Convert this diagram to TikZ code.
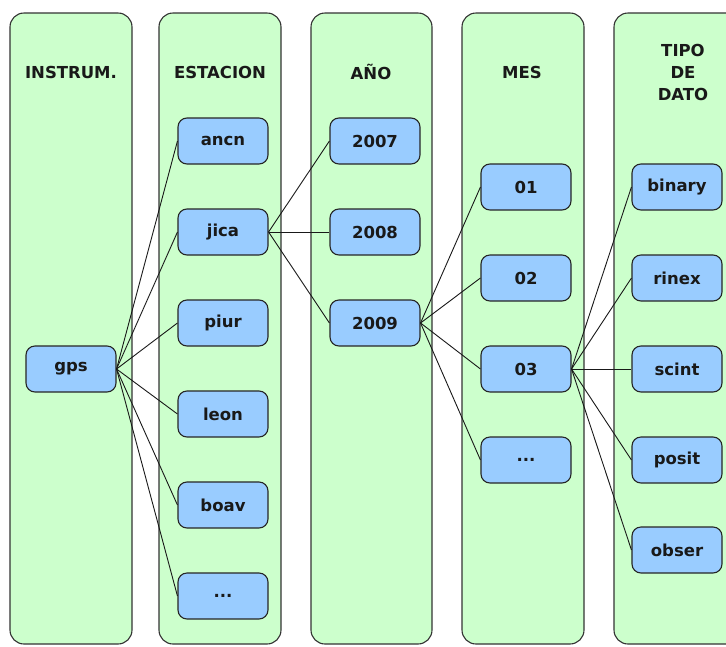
\documentclass[tikz,border=0pt]{standalone}
\usepackage{fontspec}
\setmainfont{DejaVu Sans}
\begin{document}
\begin{tikzpicture}[x=1pt,y=-1pt,
  colbox/.style={draw=black!80,line width=1.1pt,fill=colgreen,rounded corners=14pt},
  item/.style={draw=black!85,line width=1.1pt,fill=nodeblue,rounded corners=9pt,minimum width=90pt,minimum height=46pt,inner sep=0pt,font=\fontsize{16.5}{20}\selectfont\bfseries,text=black!90},
  head/.style={font=\fontsize{16.5}{22}\selectfont\bfseries,align=center,text=black!90},
  link/.style={draw=black!90,line width=0.9pt}]
\definecolor{colgreen}{HTML}{CCFFCC}
\definecolor{nodeblue}{HTML}{99CCFF}
\useasboundingbox (0,0) rectangle (726,646);
\clip (0,0) rectangle (726,646);
% columns
\draw[colbox] (10,13) rectangle (132,644);
\draw[colbox] (159,13) rectangle (281,644);
\draw[colbox] (311,13) rectangle (432,644);
\draw[colbox] (462,13) rectangle (584,644);
\draw[colbox] (614,13) rectangle (740,644);
% headers
\node[head] (h1) at (71,72) {INSTRUM.};
\node[head] (h2) at (220,72) {ESTACION};
\node[head] (h3) at (371,72) {AÑO};
\node[head] (h4) at (522,72) {MES};
\node[head] (h5) at (683,72) {TIPO\\DE\\DATO};
% nodes
\node[item] (gps) at (71,369) {gps};
\node[item] (ancn) at (223,141) {ancn};
\node[item] (jica) at (223,232) {jica};
\node[item] (piur) at (223,323) {piur};
\node[item] (leon) at (223,414) {leon};
\node[item] (boav) at (223,505) {boav};
\node[item] (est) at (223,596) {...};
\node[item] (y7) at (375,141) {2007};
\node[item] (y8) at (375,232) {2008};
\node[item] (y9) at (375,323) {2009};
\node[item] (m1) at (526,187) {01};
\node[item] (m2) at (526,278) {02};
\node[item] (m3) at (526,369) {03};
\node[item] (m4) at (526,460) {...};
\node[item] (t1) at (677,187) {binary};
\node[item] (t2) at (677,278) {rinex};
\node[item] (t3) at (677,369) {scint};
\node[item] (t4) at (677,460) {posit};
\node[item] (t5) at (677,550) {obser};
% links
\foreach \n in {ancn,jica,piur,leon,boav,est} \draw[link] (gps.east) -- (\n.west);
\foreach \n in {y7,y8,y9} \draw[link] (jica.east) -- (\n.west);
\foreach \n in {m1,m2,m3,m4} \draw[link] (y9.east) -- (\n.west);
\foreach \n in {t1,t2,t3,t4,t5} \draw[link] (m3.east) -- (\n.west);
\end{tikzpicture}
\end{document}
